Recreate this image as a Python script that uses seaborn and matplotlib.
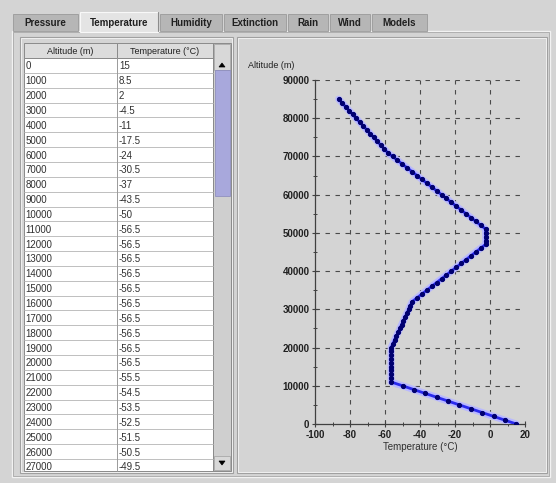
import matplotlib
matplotlib.use("Agg")
import matplotlib.pyplot as plt
from matplotlib.patches import Rectangle, Polygon
import seaborn as sns

# ---------------- data ----------------
altitude_m = [0, 1000, 2000, 3000, 4000, 5000, 6000, 7000, 8000, 9000,
              10000, 11000, 12000, 13000, 14000, 15000, 16000, 17000, 18000, 19000,
              20000, 21000, 22000, 23000, 24000, 25000, 26000, 27000, 28000, 29000,
              30000, 31000, 32000, 33000, 34000, 35000, 36000, 37000, 38000, 39000,
              40000, 41000, 42000, 43000, 44000, 45000, 46000, 47000, 48000, 49000,
              50000, 51000, 52000, 53000, 54000, 55000, 56000, 57000, 58000, 59000,
              60000, 61000, 62000, 63000, 64000, 65000, 66000, 67000, 68000, 69000,
              70000, 71000, 72000, 73000, 74000, 75000, 76000, 77000, 78000, 79000,
              80000, 81000, 82000, 83000, 84000, 85000]
temperature_c = [15, 8.5, 2, -4.5, -11, -17.5, -24, -30.5, -37, -43.5,
                 -50, -56.5, -56.5, -56.5, -56.5, -56.5, -56.5, -56.5, -56.5, -56.5,
                 -56.5, -55.5, -54.5, -53.5, -52.5, -51.5, -50.5, -49.5, -48.5, -47.5,
                 -46.5, -45.5, -44.5, -41.7, -38.9, -36.1, -33.3, -30.5, -27.7, -24.9,
                 -22.1, -19.3, -16.5, -13.7, -10.9, -8.1, -5.3, -2.5, -2.5, -2.5,
                 -2.5, -2.5, -5.3, -8.1, -10.9, -13.7, -16.5, -19.3, -22.1, -24.9,
                 -27.7, -30.5, -33.3, -36.1, -38.9, -41.7, -44.5, -47.3, -50.1, -52.9,
                 -55.7, -58.5, -60.5, -62.5, -64.5, -66.5, -68.5, -70.5, -72.5, -74.5,
                 -76.5, -78.5, -80.5, -82.5, -84.5, -86.5]
tab_labels = ["Pressure", "Temperature", "Humidity", "Extinction", "Rain", "Wind", "Models"]
table_headers = ["Altitude (m)", "Temperature (°C)"]
x_ticks = [-100, -80, -60, -40, -20, 0, 20]
y_ticks = [0, 10000, 20000, 30000, 40000, 50000, 60000, 70000, 80000, 90000]
visible_rows = 28

# ---------------- figure ----------------
sns.set_theme(style="white")
plt.rcParams['font.family'] = ['Liberation Sans', 'DejaVu Sans']
W, H = 556, 483
BG = "#d4d4d4"
fig = plt.figure(figsize=(W / 100, H / 100), dpi=100, facecolor=BG)

ui = fig.add_axes([0, 0, 1, 1], zorder=0)
ui.set_xlim(0, W)
ui.set_ylim(H, 0)
ui.axis("off")
ui.set_facecolor(BG)


def rect(x0, y0, x1, y1, fc="none", ec="none", lw=1.0, z=1):
    r = Rectangle((x0, y0), x1 - x0, y1 - y0, facecolor=fc, edgecolor=ec, lw=lw, zorder=z)
    ui.add_patch(r)
    return r


# content panel
rect(12, 31, 550, 477, fc=BG, ec="#f2f2f2", lw=1.0, z=1)
rect(13, 32, 549, 476, fc="none", ec="#a8a8a8", lw=0.6, z=1)

# tabs
tab_x = [(13, 78), (80, 158), (160, 222), (224, 286), (288, 328), (330, 370), (372, 427)]
for (x0, x1), lab in zip(tab_x, tab_labels):
    if lab == "Temperature":
        rect(x0, 12, x1, 32, fc="#e4e4e4", ec="#f8f8f8", lw=0.8, z=3)
        ui.plot([x1, x1], [12, 31], color="#8c8c8c", lw=0.8, zorder=4)
    else:
        rect(x0, 14, x1, 31, fc="#b6b6b6", ec="#9a9a9a", lw=0.6, z=2)
    ui.text((x0 + x1) / 2, 22.5, lab, ha="center", va="center", fontsize=7,
            fontweight="bold", color="#202020", zorder=5)

# left panel (table)
rect(20, 37, 233, 473, fc=BG, ec="#a0a0a0", lw=0.8, z=2)
rect(21, 38, 232, 472, fc="none", ec="#f4f4f4", lw=0.6, z=2)
tx0, tmid, tx1, sx1 = 24, 117, 213, 231
ty_head0, ty_head1 = 43, 58
row_h = 14.85
table_bottom = 471
clip = rect(tx0, ty_head0, sx1, table_bottom, fc="none", ec="none", z=2)

# header
rect(tx0, ty_head0, tmid, ty_head1, fc="#dcdcdc", ec="#8a8a8a", lw=0.7, z=3)
rect(tmid, ty_head0, tx1, ty_head1, fc="#dcdcdc", ec="#8a8a8a", lw=0.7, z=3)
ui.text((tx0 + tmid) / 2, (ty_head0 + ty_head1) / 2 + 0.5, table_headers[0], ha="center",
        va="center", fontsize=6.5, color="#202020", zorder=4)
ui.text((tmid + tx1) / 2, (ty_head0 + ty_head1) / 2 + 0.5, table_headers[1], ha="center",
        va="center", fontsize=6.5, color="#202020", zorder=4)

# body
rect(tx0, ty_head1, tx1, table_bottom, fc="white", ec="#8a8a8a", lw=0.7, z=3)
for i in range(visible_rows):
    y0 = ty_head1 + i * row_h
    y1 = y0 + row_h
    if y0 > table_bottom:
        break
    if y1 < table_bottom:
        ui.plot([tx0, tx1], [y1, y1], color="#b4b4b4", lw=0.6, zorder=4)
    t1 = ui.text(tx0 + 1.5, (y0 + y1) / 2 + 1.0, f"{altitude_m[i]}", ha="left", va="center",
                 fontsize=7, color="#303030", zorder=5)
    t2 = ui.text(tmid + 2, (y0 + y1) / 2 + 1.0, f"{temperature_c[i]:g}", ha="left", va="center",
                 fontsize=7, color="#303030", zorder=5)
    t1.set_clip_path(clip)
    t2.set_clip_path(clip)
ui.plot([tmid, tmid], [ty_head1, table_bottom], color="#9a9a9a", lw=0.7, zorder=4)

# scrollbar
rect(tx1, ty_head0, sx1, table_bottom, fc="#cfcfcf", ec="#8a8a8a", lw=0.7, z=3)
rect(tx1 + 1, ty_head0 + 1, sx1 - 1, ty_head1 + 12, fc="#d8d8d8", ec="#a0a0a0", lw=0.5, z=4)
rect(tx1 + 1.5, ty_head1 + 12, sx1 - 1.5, 196, fc="#a8a8dc", ec="#8888bb", lw=0.5, z=4)
rect(tx1 + 1, table_bottom - 15, sx1 - 1, table_bottom - 1, fc="#d8d8d8", ec="#a0a0a0", lw=0.5, z=4)
cx = (tx1 + sx1) / 2
ui.add_patch(Polygon([[cx - 3, 67], [cx + 3, 67], [cx, 63]], closed=True,
                     fc="black", ec="black", lw=0.5, zorder=8))
ui.add_patch(Polygon([[cx - 3, table_bottom - 10], [cx + 3, table_bottom - 10],
                      [cx, table_bottom - 6]], closed=True, fc="black", ec="black", lw=0.5, zorder=8))

# right panel (chart)
rect(237, 37, 547, 473, fc=BG, ec="#a0a0a0", lw=0.8, z=2)
rect(238, 38, 546, 472, fc="none", ec="#f4f4f4", lw=0.6, z=2)
ui.text(248, 66, "Altitude (m)", ha="left", va="center", fontsize=6.5, color="#202020", zorder=5)

# ---------------- chart ----------------
ax_l, ax_r, ax_t, ax_b = 315, 525, 80, 424
ax = fig.add_axes([ax_l / W, 1 - ax_b / H, (ax_r - ax_l) / W, (ax_b - ax_t) / H], zorder=5)
ax.set_facecolor("none")
ax.patch.set_alpha(0)

sns.lineplot(x=temperature_c, y=altitude_m, sort=False, estimator=None, ax=ax,
             color="#b8b8ff", lw=5.0, zorder=3)
sns.lineplot(x=temperature_c, y=altitude_m, sort=False, estimator=None, ax=ax,
             color="#2a2aee", lw=2.0, marker="o", markersize=3.0,
             markerfacecolor="#000070", markeredgecolor="#000070", zorder=4)

ax.set_xlim(-100, 20)
ax.set_ylim(0, 90000)
ax.set_xticks(x_ticks)
ax.set_yticks(y_ticks)
ax.set_xticks(range(-90, 20, 20), minor=True)
ax.set_yticks(range(5000, 90000, 10000), minor=True)
ax.set_xticklabels([str(v) for v in x_ticks], fontsize=7, fontweight="bold", color="#202020")
ax.set_yticklabels([str(v) for v in y_ticks], fontsize=7, fontweight="bold", color="#202020")
ax.tick_params(axis="both", which="major", direction="inout", length=5, width=0.8,
               color="#404040", pad=1.5, bottom=True, left=True)
ax.tick_params(axis="both", which="minor", direction="inout", length=3, width=0.7,
               color="#404040", bottom=True, left=True)
ax.grid(True, which="major", color="#4a4a4a", lw=0.8, ls=(0, (4, 5)))
for gl in ax.xaxis.get_gridlines()[:1] + ax.xaxis.get_gridlines()[-1:]:
    gl.set_visible(False)
ax.yaxis.get_gridlines()[0].set_visible(False)
for s in ["top", "right"]:
    ax.spines[s].set_visible(False)
for s in ["left", "bottom"]:
    ax.spines[s].set_color("#404040")
    ax.spines[s].set_linewidth(0.9)
ax.set_xlabel("Temperature (°C)", fontsize=7, color="#303030", labelpad=2)
ax.set_ylabel("")

fig.savefig("out.png", dpi=100, facecolor=BG)
